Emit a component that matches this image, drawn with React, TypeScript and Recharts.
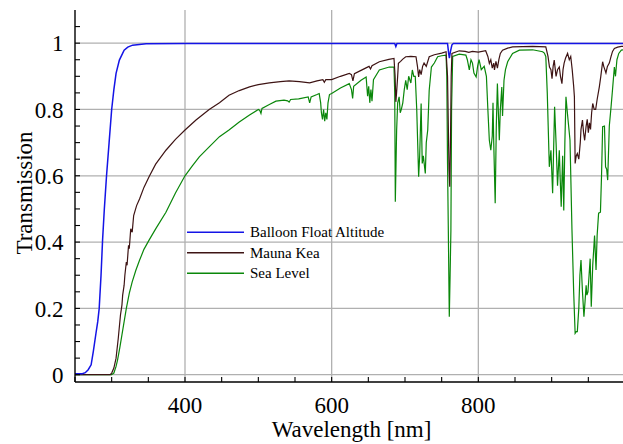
import React from "react";
import { LineChart, Line, XAxis, YAxis, CartesianGrid, Legend } from "recharts";

// ---- Data (wavelength in nm, transmission 0..1) ----
const balloonWl = [250, 260, 264, 268, 272, 275, 278.6, 281, 283, 285.5, 287.6, 290, 293, 296.5, 300, 303, 306, 310.5, 317, 322, 328.5, 347, 400, 686, 687.5, 689, 758, 759.5, 760.5, 762, 764, 766, 1000];
const balloonT = [0.003, 0.003, 0.006, 0.015, 0.03, 0.07, 0.125, 0.16, 0.2, 0.3, 0.406, 0.5, 0.6, 0.7, 0.8, 0.86, 0.909, 0.949, 0.979, 0.988, 0.994, 0.998, 0.999, 0.999, 0.99, 0.999, 0.999, 0.97, 0.955, 0.975, 0.995, 0.999, 0.999];

const maunaWl = [250, 298, 300, 303, 306, 309, 312, 314, 315, 317, 318, 320, 321, 323, 324, 326, 328, 330, 334, 338, 344, 351, 360, 374, 387, 400, 415, 433, 447, 460, 474, 488, 500, 515, 530, 542, 556, 570, 580, 588, 590, 592, 600, 612, 624, 627, 629, 631, 640, 651, 653, 655, 665, 678, 685, 686.5, 687.5, 688.5, 690, 691, 694, 697, 701, 708, 715, 717, 718.6, 720, 722, 724, 726, 729, 733, 740, 750, 756, 758, 760, 761, 762, 763, 764, 774, 782, 787, 792, 800, 810, 813, 815, 817, 819, 821, 822, 824, 826, 828, 830, 833, 840, 846.7, 874, 892, 895, 897, 899, 900.5, 902, 903.5, 906, 908, 910.4, 912, 914, 915.5, 917, 919, 921.7, 924, 926, 928, 930, 931, 932, 933.5, 935, 937, 939, 940, 942, 943.5, 945, 947, 948.5, 950, 951.5, 953, 954.5, 956, 958, 960, 962, 965, 967, 969.5, 971, 972.5, 974, 976, 978.6, 981, 983, 985.5, 990, 995, 1000];
const maunaT = [0, 0, 0.005, 0.02, 0.05, 0.11, 0.18, 0.21, 0.24, 0.27, 0.3, 0.34, 0.33, 0.39, 0.38, 0.44, 0.43, 0.48, 0.51, 0.53, 0.565, 0.597, 0.635, 0.677, 0.71, 0.738, 0.768, 0.8, 0.82, 0.843, 0.857, 0.868, 0.875, 0.88, 0.884, 0.886, 0.884, 0.88, 0.886, 0.89, 0.882, 0.89, 0.89, 0.9, 0.909, 0.905, 0.886, 0.908, 0.918, 0.93, 0.922, 0.932, 0.944, 0.951, 0.954, 0.9, 0.823, 0.85, 0.9, 0.939, 0.945, 0.952, 0.959, 0.96, 0.959, 0.93, 0.898, 0.92, 0.905, 0.93, 0.94, 0.93, 0.959, 0.965, 0.97, 0.974, 0.9, 0.62, 0.567, 0.7, 0.9, 0.969, 0.977, 0.975, 0.972, 0.975, 0.973, 0.977, 0.96, 0.939, 0.95, 0.925, 0.94, 0.919, 0.945, 0.925, 0.95, 0.969, 0.979, 0.985, 0.989, 0.99, 0.989, 0.96, 0.928, 0.92, 0.893, 0.93, 0.949, 0.9, 0.92, 0.928, 0.9, 0.878, 0.92, 0.94, 0.955, 0.969, 0.95, 0.96, 0.92, 0.87, 0.838, 0.637, 0.66, 0.667, 0.65, 0.7, 0.74, 0.768, 0.73, 0.707, 0.75, 0.77, 0.73, 0.76, 0.74, 0.79, 0.818, 0.8, 0.8, 0.83, 0.868, 0.9, 0.944, 0.93, 0.92, 0.91, 0.93, 0.94, 0.96, 0.975, 0.984, 0.988, 0.99, 0.99];

const seaWl = [250, 300, 303, 306, 308, 311, 314, 317, 320, 324, 328, 333, 338, 344, 351, 360, 374, 387, 400, 410, 419.5, 433, 447, 460, 474, 488, 500, 502, 503.6, 505, 515, 524, 535, 540, 542, 544, 555, 568, 570, 572, 580, 583, 585, 586, 587.5, 589, 590.5, 592, 593.5, 595, 597, 600, 612, 624, 627, 628.6, 630, 640, 647, 649, 650.5, 652, 653.5, 655, 657, 665, 678.6, 685, 686, 686.8, 688.6, 690, 692, 693.5, 695, 697, 699, 701, 703, 705, 708, 710, 712, 714, 716, 718.6, 720, 722, 723.5, 725, 727.7, 729, 731, 733, 736, 740, 744.5, 750, 756, 757, 758, 759, 760.4, 761.5, 762.6, 763.5, 765, 774, 783, 785, 787.7, 790, 792, 794, 797, 799, 801, 804, 808, 811, 813, 815, 817, 819, 820, 821, 823, 824.5, 826, 828.6, 830, 832, 833, 835, 837, 840, 846.7, 856, 874, 887.7, 890, 892, 894, 896.8, 899, 901.3, 904, 906, 908, 910.4, 911.5, 913, 915, 916.5, 918, 919.5, 921, 922.7, 925, 927.7, 930, 932, 933.5, 935, 937, 938.5, 940, 942, 944, 945.5, 947, 948, 949.5, 951, 952.5, 954, 956, 958.5, 960.5, 962, 964, 966.5, 968, 969.5, 972, 973.5, 975, 976.4, 978.6, 981, 983, 985.5, 987, 989, 991.5, 995, 1000];
const seaT = [0, 0, 0.005, 0.025, 0.044, 0.08, 0.12, 0.16, 0.2, 0.245, 0.28, 0.315, 0.345, 0.378, 0.406, 0.44, 0.49, 0.548, 0.6, 0.63, 0.657, 0.687, 0.718, 0.738, 0.762, 0.783, 0.8, 0.797, 0.788, 0.803, 0.815, 0.825, 0.828, 0.826, 0.822, 0.83, 0.832, 0.838, 0.82, 0.838, 0.845, 0.848, 0.82, 0.79, 0.77, 0.8, 0.765, 0.79, 0.77, 0.82, 0.845, 0.848, 0.865, 0.878, 0.86, 0.833, 0.87, 0.888, 0.898, 0.84, 0.87, 0.82, 0.86, 0.825, 0.89, 0.919, 0.928, 0.928, 0.85, 0.522, 0.738, 0.82, 0.838, 0.79, 0.8, 0.82, 0.86, 0.888, 0.86, 0.9, 0.88, 0.919, 0.9, 0.9, 0.8, 0.597, 0.66, 0.818, 0.637, 0.66, 0.607, 0.7, 0.738, 0.858, 0.928, 0.94, 0.959, 0.962, 0.964, 0.9, 0.637, 0.45, 0.175, 0.3, 0.436, 0.8, 0.96, 0.967, 0.964, 0.95, 0.919, 0.95, 0.94, 0.91, 0.898, 0.93, 0.95, 0.92, 0.93, 0.9, 0.8, 0.707, 0.677, 0.72, 0.82, 0.7, 0.517, 0.75, 0.878, 0.707, 0.8, 0.868, 0.78, 0.888, 0.92, 0.944, 0.969, 0.979, 0.98, 0.974, 0.97, 0.96, 0.85, 0.627, 0.677, 0.547, 0.808, 0.7, 0.57, 0.677, 0.6, 0.507, 0.66, 0.495, 0.7, 0.838, 0.8, 0.76, 0.707, 0.436, 0.25, 0.125, 0.13, 0.13, 0.2, 0.3, 0.346, 0.25, 0.175, 0.22, 0.27, 0.24, 0.25, 0.3, 0.35, 0.205, 0.33, 0.42, 0.316, 0.42, 0.487, 0.49, 0.6, 0.748, 0.75, 0.627, 0.62, 0.587, 0.75, 0.808, 0.86, 0.928, 0.9, 0.95, 0.969, 0.979, 0.98];

const xTicks = [250, 300, 350, 400, 450, 500, 550, 600, 650, 700, 750, 800, 850, 900, 950, 1000];
const xTickLabels = [400, 600, 800];
const yTicks = [0, 0.05, 0.1, 0.15, 0.2, 0.25, 0.3, 0.35, 0.4, 0.45, 0.5, 0.55, 0.6, 0.65, 0.7, 0.75, 0.8, 0.85, 0.9, 0.95, 1, 1.05];
const yTickValues = [0, 0.2, 0.4, 0.6, 0.8, 1];
const yTickLabels = ["0", "0.2", "0.4", "0.6", "0.8", "1"];
const xGrid = [400, 600, 800];
const yGrid = [0, 0.2, 0.4, 0.6, 0.8, 1];

const seriesNames = ["Balloon Float Altitude", "Mauna Kea", "Sea Level"];
const seriesColors = ["#1414e6", "#3e1414", "#0a870a"];

const toRows = (wl: number[], t: number[]) => wl.map((w, i) => ({ wl: w, t: t[i] }));
const balloonData = toRows(balloonWl, balloonT);
const maunaData = toRows(maunaWl, maunaT);
const seaData = toRows(seaWl, seaT);

const FONT = "Liberation Serif";
const textStyle = { fontFamily: FONT, fontSize: 23 };

const fmtX = (v: number) => (xTickLabels.includes(v) ? String(v) : "");
const fmtY = (v: number) => {
  const idx = yTickValues.findIndex((y) => Math.abs(y - v) < 1e-6);
  return idx >= 0 ? yTickLabels[idx] : "";
};

const XTick = (props: any) => {
  const { x, y, payload } = props;
  const label = fmtX(payload.value);
  if (!label) return null;
  return (
    <text x={x} y={y} dy="0.71em" textAnchor="middle" fill="#000" style={textStyle}>
      {label}
    </text>
  );
};

const YTick = (props: any) => {
  const { x, y, payload } = props;
  const label = fmtY(payload.value);
  if (!label) return null;
  return (
    <text x={x} y={y} dy="0.355em" textAnchor="end" fill="#000" style={textStyle}>
      {label}
    </text>
  );
};

const LegendBox = () => (
  <svg width={220} height={62} style={{ display: "block" }}>
    {seriesNames.map((name, i) => {
      const cy = 10.25 + i * 20.5;
      return (
        <g key={name}>
          <line x1={0} x2={57} y1={cy} y2={cy} stroke={seriesColors[i]} strokeWidth={1.3} />
          <text x={63} y={cy} dy="0.33em" fill="#000" style={{ fontFamily: FONT, fontSize: 15 }}>
            {name}
          </text>
        </g>
      );
    })}
  </svg>
);

export default function App() {
  return (
    <div style={{ position: "absolute", left: 0, top: 0, width: 623, height: 444, overflow: "hidden", background: "#fff" }}>
      <LineChart
        width={627}
        height={444}
        margin={{ top: 10, right: 2, bottom: 22, left: 30 }}
        style={{ fontFamily: FONT }}
      >
        <CartesianGrid
          xAxisId="b"
          yAxisId="l"
          horizontalValues={yGrid}
          verticalValues={xGrid}
          stroke="#b0b0b0"
          strokeWidth={1.3}
        />
        <XAxis
          xAxisId="b"
          dataKey="wl"
          type="number"
          domain={[250, 1000]}
          allowDataOverflow
          ticks={xTicks}
          interval={0}
          tickSize={-5}
          tickMargin={20}
          height={40}
          axisLine={{ stroke: "#000", strokeWidth: 1.4 }}
          tickLine={{ stroke: "#000", strokeWidth: 1.1 }}
          tick={<XTick />}
          label={{
            content: () => (
              <text x={351.5} y={437} textAnchor="middle" fill="#000" style={textStyle}>
                Wavelength [nm]
              </text>
            ),
          }}
        />
        <XAxis
          xAxisId="t"
          orientation="top"
          dataKey="wl"
          type="number"
          domain={[250, 1000]}
          allowDataOverflow
          ticks={xTicks}
          interval={0}
          tick={false}
          tickSize={-5}
          height={0}
          axisLine={{ stroke: "#000", strokeWidth: 1.4 }}
          tickLine={{ stroke: "#000", strokeWidth: 1.1 }}
        />
        <YAxis
          yAxisId="l"
          type="number"
          domain={[-0.022, 1.1]}
          allowDataOverflow
          ticks={yTicks}
          interval={0}
          tickSize={-5}
          tickMargin={16.5}
          width={45}
          axisLine={{ stroke: "#000", strokeWidth: 1.4 }}
          tickLine={{ stroke: "#000", strokeWidth: 1.1 }}
          tick={<YTick />}
          label={{
            content: () => (
              <text
                x={32}
                y={193}
                transform="rotate(-90 32 193)"
                textAnchor="middle"
                fill="#000"
                style={textStyle}
              >
                Transmission
              </text>
            ),
          }}
        />
        <YAxis
          yAxisId="r"
          orientation="right"
          type="number"
          domain={[-0.022, 1.1]}
          allowDataOverflow
          ticks={yTicks}
          interval={0}
          tick={false}
          tickSize={-5}
          width={0}
          axisLine={{ stroke: "#000", strokeWidth: 1.4 }}
          tickLine={{ stroke: "#000", strokeWidth: 1.1 }}
        />
        <Line
          xAxisId="b"
          yAxisId="l"
          data={seaData}
          dataKey="t"
          name={seriesNames[2]}
          stroke={seriesColors[2]}
          strokeWidth={1.2}
          dot={false}
          type="linear"
          isAnimationActive={false}
        />
        <Line
          xAxisId="b"
          yAxisId="l"
          data={maunaData}
          dataKey="t"
          name={seriesNames[1]}
          stroke={seriesColors[1]}
          strokeWidth={1.2}
          dot={false}
          type="linear"
          isAnimationActive={false}
        />
        <Line
          xAxisId="b"
          yAxisId="l"
          data={balloonData}
          dataKey="t"
          name={seriesNames[0]}
          stroke={seriesColors[0]}
          strokeWidth={1.5}
          dot={false}
          type="linear"
          isAnimationActive={false}
        />
        <Legend
          layout="horizontal"
          verticalAlign="middle"
          align="center"
          wrapperStyle={{ left: 187, top: 221.5, width: 220, height: 62 }}
          content={() => <LegendBox />}
        />
      </LineChart>
    </div>
  );
}
